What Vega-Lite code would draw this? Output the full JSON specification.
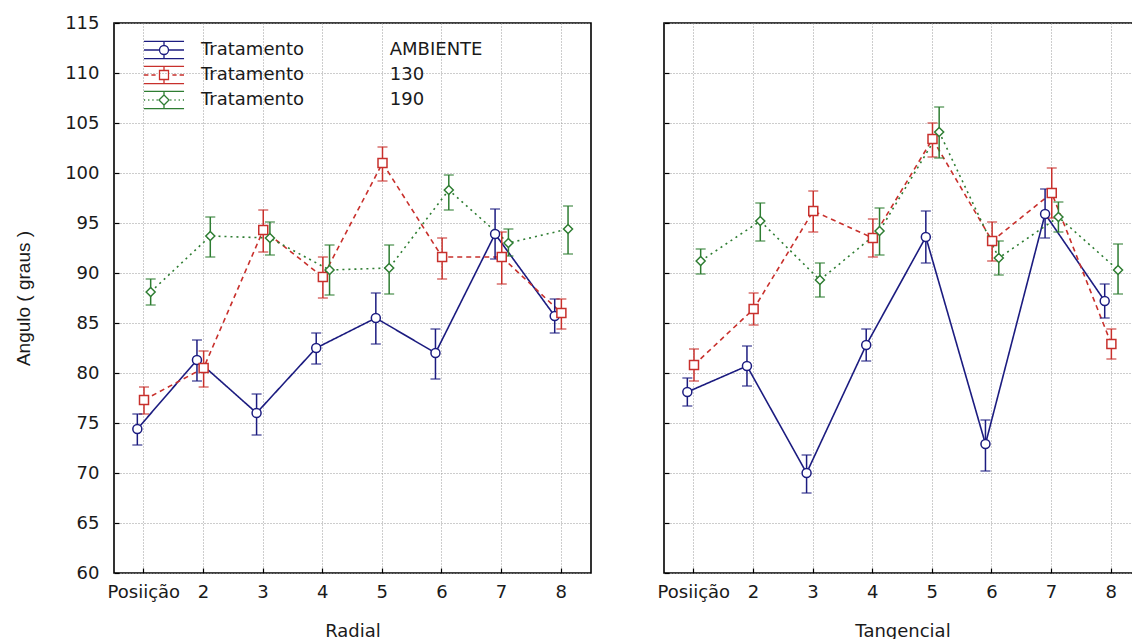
{
  "$schema": "https://vega.github.io/schema/vega-lite/v6.json",
  "background": "white",
  "padding": {"left": 13, "top": 13, "right": 0, "bottom": 0},
  "bounds": "flush",
  "spacing": 73,
  "datasets": {
    "d": [
      {"painel": "Radial", "trat": "AMBIENTE", "pos": 1, "mean": 74.4, "lo": 72.8, "hi": 75.9},
      {"painel": "Radial", "trat": "AMBIENTE", "pos": 2, "mean": 81.3, "lo": 79.2, "hi": 83.3},
      {"painel": "Radial", "trat": "AMBIENTE", "pos": 3, "mean": 76.0, "lo": 73.8, "hi": 77.9},
      {"painel": "Radial", "trat": "AMBIENTE", "pos": 4, "mean": 82.5, "lo": 80.9, "hi": 84.0},
      {"painel": "Radial", "trat": "AMBIENTE", "pos": 5, "mean": 85.5, "lo": 82.9, "hi": 88.0},
      {"painel": "Radial", "trat": "AMBIENTE", "pos": 6, "mean": 82.0, "lo": 79.4, "hi": 84.4},
      {"painel": "Radial", "trat": "AMBIENTE", "pos": 7, "mean": 93.9, "lo": 91.4, "hi": 96.4},
      {"painel": "Radial", "trat": "AMBIENTE", "pos": 8, "mean": 85.7, "lo": 84.0, "hi": 87.4},
      {"painel": "Radial", "trat": "130", "pos": 1, "mean": 77.3, "lo": 75.9, "hi": 78.6},
      {"painel": "Radial", "trat": "130", "pos": 2, "mean": 80.5, "lo": 78.6, "hi": 82.2},
      {"painel": "Radial", "trat": "130", "pos": 3, "mean": 94.3, "lo": 92.1, "hi": 96.3},
      {"painel": "Radial", "trat": "130", "pos": 4, "mean": 89.6, "lo": 87.5, "hi": 91.6},
      {"painel": "Radial", "trat": "130", "pos": 5, "mean": 101.0, "lo": 99.2, "hi": 102.6},
      {"painel": "Radial", "trat": "130", "pos": 6, "mean": 91.6, "lo": 89.4, "hi": 93.5},
      {"painel": "Radial", "trat": "130", "pos": 7, "mean": 91.6, "lo": 88.9, "hi": 94.1},
      {"painel": "Radial", "trat": "130", "pos": 8, "mean": 86.0, "lo": 84.4, "hi": 87.4},
      {"painel": "Radial", "trat": "190", "pos": 1, "mean": 88.1, "lo": 86.8, "hi": 89.4},
      {"painel": "Radial", "trat": "190", "pos": 2, "mean": 93.7, "lo": 91.6, "hi": 95.6},
      {"painel": "Radial", "trat": "190", "pos": 3, "mean": 93.5, "lo": 91.8, "hi": 95.1},
      {"painel": "Radial", "trat": "190", "pos": 4, "mean": 90.3, "lo": 87.8, "hi": 92.8},
      {"painel": "Radial", "trat": "190", "pos": 5, "mean": 90.5, "lo": 87.9, "hi": 92.8},
      {"painel": "Radial", "trat": "190", "pos": 6, "mean": 98.3, "lo": 96.3, "hi": 99.8},
      {"painel": "Radial", "trat": "190", "pos": 7, "mean": 93.0, "lo": 91.7, "hi": 94.4},
      {"painel": "Radial", "trat": "190", "pos": 8, "mean": 94.4, "lo": 91.9, "hi": 96.7},
      {"painel": "Tangencial", "trat": "AMBIENTE", "pos": 1, "mean": 78.1, "lo": 76.7, "hi": 79.5},
      {"painel": "Tangencial", "trat": "AMBIENTE", "pos": 2, "mean": 80.7, "lo": 78.7, "hi": 82.7},
      {"painel": "Tangencial", "trat": "AMBIENTE", "pos": 3, "mean": 70.0, "lo": 68.0, "hi": 71.8},
      {"painel": "Tangencial", "trat": "AMBIENTE", "pos": 4, "mean": 82.8, "lo": 81.2, "hi": 84.4},
      {"painel": "Tangencial", "trat": "AMBIENTE", "pos": 5, "mean": 93.6, "lo": 91.0, "hi": 96.2},
      {"painel": "Tangencial", "trat": "AMBIENTE", "pos": 6, "mean": 72.9, "lo": 70.2, "hi": 75.3},
      {"painel": "Tangencial", "trat": "AMBIENTE", "pos": 7, "mean": 95.9, "lo": 93.5, "hi": 98.4},
      {"painel": "Tangencial", "trat": "AMBIENTE", "pos": 8, "mean": 87.2, "lo": 85.5, "hi": 88.9},
      {"painel": "Tangencial", "trat": "130", "pos": 1, "mean": 80.8, "lo": 79.2, "hi": 82.4},
      {"painel": "Tangencial", "trat": "130", "pos": 2, "mean": 86.4, "lo": 84.8, "hi": 88.0},
      {"painel": "Tangencial", "trat": "130", "pos": 3, "mean": 96.2, "lo": 94.1, "hi": 98.2},
      {"painel": "Tangencial", "trat": "130", "pos": 4, "mean": 93.5, "lo": 91.6, "hi": 95.4},
      {"painel": "Tangencial", "trat": "130", "pos": 5, "mean": 103.4, "lo": 101.6, "hi": 105.0},
      {"painel": "Tangencial", "trat": "130", "pos": 6, "mean": 93.2, "lo": 91.2, "hi": 95.1},
      {"painel": "Tangencial", "trat": "130", "pos": 7, "mean": 98.0, "lo": 95.5, "hi": 100.5},
      {"painel": "Tangencial", "trat": "130", "pos": 8, "mean": 82.9, "lo": 81.4, "hi": 84.4},
      {"painel": "Tangencial", "trat": "190", "pos": 1, "mean": 91.2, "lo": 89.9, "hi": 92.4},
      {"painel": "Tangencial", "trat": "190", "pos": 2, "mean": 95.2, "lo": 93.2, "hi": 97.0},
      {"painel": "Tangencial", "trat": "190", "pos": 3, "mean": 89.3, "lo": 87.6, "hi": 91.0},
      {"painel": "Tangencial", "trat": "190", "pos": 4, "mean": 94.2, "lo": 91.8, "hi": 96.5},
      {"painel": "Tangencial", "trat": "190", "pos": 5, "mean": 104.1, "lo": 101.5, "hi": 106.6},
      {"painel": "Tangencial", "trat": "190", "pos": 6, "mean": 91.5, "lo": 89.8, "hi": 93.2},
      {"painel": "Tangencial", "trat": "190", "pos": 7, "mean": 95.6, "lo": 94.1, "hi": 97.1},
      {"painel": "Tangencial", "trat": "190", "pos": 8, "mean": 90.3, "lo": 87.9, "hi": 92.9}
    ]
  },
  "data": {"name": "d"},
  "hconcat": [
    {
      "width": 477,
      "height": 550,
      "transform": [{"filter": "datum.painel === 'Radial'"}],
      "encoding": {
        "x": {"field": "pos", "type": "ordinal", "scale": {"type": "band", "paddingInner": 0, "paddingOuter": 0},
              "axis": {"title": "Radial", "labelAngle": 0, "bandPosition": 0.5, "labelExpr": "datum.value == 1 ? 'Posiição' : datum.label"}},
        "xOffset": {"field": "trat", "type": "nominal", "scale": {"type": "point", "domain": ["AMBIENTE", "130", "190"], "range": [20, 40]}},
        "y": {"field": "mean", "type": "quantitative", "scale": {"domain": [60, 115], "nice": false, "zero": false},
              "axis": {"title": "Angulo ( graus )", "values": [60, 65, 70, 75, 80, 85, 90, 95, 100, 105, 110, 115], "titleFont": "Liberation Sans", "titleFontSize": 19, "titleX": -91, "titleBaseline": "middle"}},
        "color": {"field": "trat", "type": "nominal",
                  "scale": {"domain": ["AMBIENTE", "130", "190"], "range": ["#1c1c80", "#c8302c", "#2e7d32"]},
                  "legend": {
                    "orient": "none", "legendX": 37, "legendY": 14, "title": null,
                    "symbolSize": 576, "labelFontSize": 18, "labelFont": "DejaVu Sans", "labelColor": "#1a1a1a",
                    "labelOffset": 24, "labelLimit": 0, "rowPadding": 0, "padding": 0, "symbolStrokeWidth": 1.3,
                    "symbolFillColor": "white",
                    "labelExpr": "'Tratamento\u00a0\u00a0\u00a0\u00a0\u00a0\u00a0\u00a0\u00a0\u00a0\u00a0\u00a0\u00a0\u00a0\u00a0\u00a0' + datum.label",
                    "encode": {"symbols": {"update": {
                      "shape": {"signal": "datum.value === 'AMBIENTE' ? 'M-1.67,-0.72H1.67M-1.67,0.72H1.67M0,-0.72V-0.375M0,0.375V0.72M-1.67,0H-0.375M0.375,0H1.67M0.375,0A0.375,0.375 0 1 1 -0.375,0A0.375,0.375 0 1 1 0.375,0Z' : datum.value === '130' ? 'M-1.67,-0.72H1.67M-1.67,0.72H1.67M0,-0.72V-0.375M0,0.375V0.72M-1.67,0H-1.3M-1.05,0H-0.7M0.7,0H1.05M1.3,0H1.67M-0.375,-0.375H0.375V0.375H-0.375Z' : 'M-1.67,-0.72H1.67M-1.67,0.72H1.67M0,-0.72V-0.42M0,0.42V0.72M-1.67,0H-1.57M-1.32,0H-1.22M-0.97,0H-0.87M-0.62,0H-0.52M0.52,0H0.62M0.87,0H0.97M1.22,0H1.32M1.57,0H1.67M0,-0.42L0.42,0L0,0.42L-0.42,0Z'"},
                      "stroke": {"signal": "datum.value === 'AMBIENTE' ? '#1c1c80' : datum.value === '130' ? '#c8302c' : '#2e7d32'"},
                      "fill": {"signal": "'transparent'"},
                      "fillOpacity": {"value": 0},
                      "strokeWidth": {"value": 1.3},
                      "opacity": {"value": 1}
                    }}}
                  }}
      },
      "layer": [
        {"mark": {"type": "line", "strokeWidth": 1.6},
         "encoding": {"strokeDash": {"field": "trat", "type": "nominal", "scale": {"domain": ["AMBIENTE", "130", "190"], "range": [[1, 0], [5, 4], [2, 4]]}, "legend": null}}},
        {"mark": {"type": "rule", "strokeWidth": 1.5}, "encoding": {"y": {"field": "lo", "type": "quantitative"}, "y2": {"field": "hi"}}},
        {"mark": {"type": "tick", "thickness": 1.5, "size": 10, "orient": "horizontal"}, "encoding": {"y": {"field": "lo", "type": "quantitative"}}},
        {"mark": {"type": "tick", "thickness": 1.5, "size": 10, "orient": "horizontal"}, "encoding": {"y": {"field": "hi", "type": "quantitative"}}},
        {"mark": {"type": "point", "filled": false, "fill": "white", "fillOpacity": 1, "opacity": 1, "strokeWidth": 1.5, "size": 81},
         "encoding": {"shape": {"field": "trat", "type": "nominal", "scale": {"domain": ["AMBIENTE", "130", "190"], "range": ["circle", "square", "diamond"]}, "legend": null}}}
      ]
    },
    {
      "width": 477,
      "height": 550,
      "transform": [{"filter": "datum.painel === 'Tangencial'"}],
      "encoding": {
        "x": {"field": "pos", "type": "ordinal", "scale": {"type": "band", "paddingInner": 0, "paddingOuter": 0},
              "axis": {"title": "Tangencial", "labelAngle": 0, "bandPosition": 0.5, "labelExpr": "datum.value == 1 ? 'Posiição' : datum.label"}},
        "xOffset": {"field": "trat", "type": "nominal", "scale": {"type": "point", "domain": ["AMBIENTE", "130", "190"], "range": [20, 40]}},
        "y": {"field": "mean", "type": "quantitative", "scale": {"domain": [60, 115], "nice": false, "zero": false},
              "axis": {"title": null, "labels": false, "values": [60, 65, 70, 75, 80, 85, 90, 95, 100, 105, 110, 115]}},
        "color": {"field": "trat", "type": "nominal",
                  "scale": {"domain": ["AMBIENTE", "130", "190"], "range": ["#1c1c80", "#c8302c", "#2e7d32"]},
                  "legend": null}
      },
      "layer": [
        {"mark": {"type": "line", "strokeWidth": 1.6},
         "encoding": {"strokeDash": {"field": "trat", "type": "nominal", "scale": {"domain": ["AMBIENTE", "130", "190"], "range": [[1, 0], [5, 4], [2, 4]]}, "legend": null}}},
        {"mark": {"type": "rule", "strokeWidth": 1.5}, "encoding": {"y": {"field": "lo", "type": "quantitative"}, "y2": {"field": "hi"}}},
        {"mark": {"type": "tick", "thickness": 1.5, "size": 10, "orient": "horizontal"}, "encoding": {"y": {"field": "lo", "type": "quantitative"}}},
        {"mark": {"type": "tick", "thickness": 1.5, "size": 10, "orient": "horizontal"}, "encoding": {"y": {"field": "hi", "type": "quantitative"}}},
        {"mark": {"type": "point", "filled": false, "fill": "white", "fillOpacity": 1, "opacity": 1, "strokeWidth": 1.5, "size": 81},
         "encoding": {"shape": {"field": "trat", "type": "nominal", "scale": {"domain": ["AMBIENTE", "130", "190"], "range": ["circle", "square", "diamond"]}, "legend": null}}}
      ]
    }
  ],
  "resolve": {"legend": {"color": "independent"}},
  "config": {
    "font": "DejaVu Sans",
    "view": {"stroke": "#000", "strokeWidth": 1.6},
    "axis": {
      "labelFont": "DejaVu Sans", "labelFontSize": 18, "labelColor": "#1a1a1a",
      "titleFont": "DejaVu Sans", "titleFontSize": 18, "titleFontWeight": "normal", "titleColor": "#1a1a1a",
      "grid": true, "gridColor": "#9a9a9a", "gridDash": [1, 2], "gridWidth": 1,
      "domain": false, "ticks": true, "tickColor": "#000", "tickSize": -5, "tickWidth": 1.2
    },
    "axisY": {"labelPadding": 20},
    "axisX": {"labelPadding": 15, "titlePadding": 21}
  }
}
